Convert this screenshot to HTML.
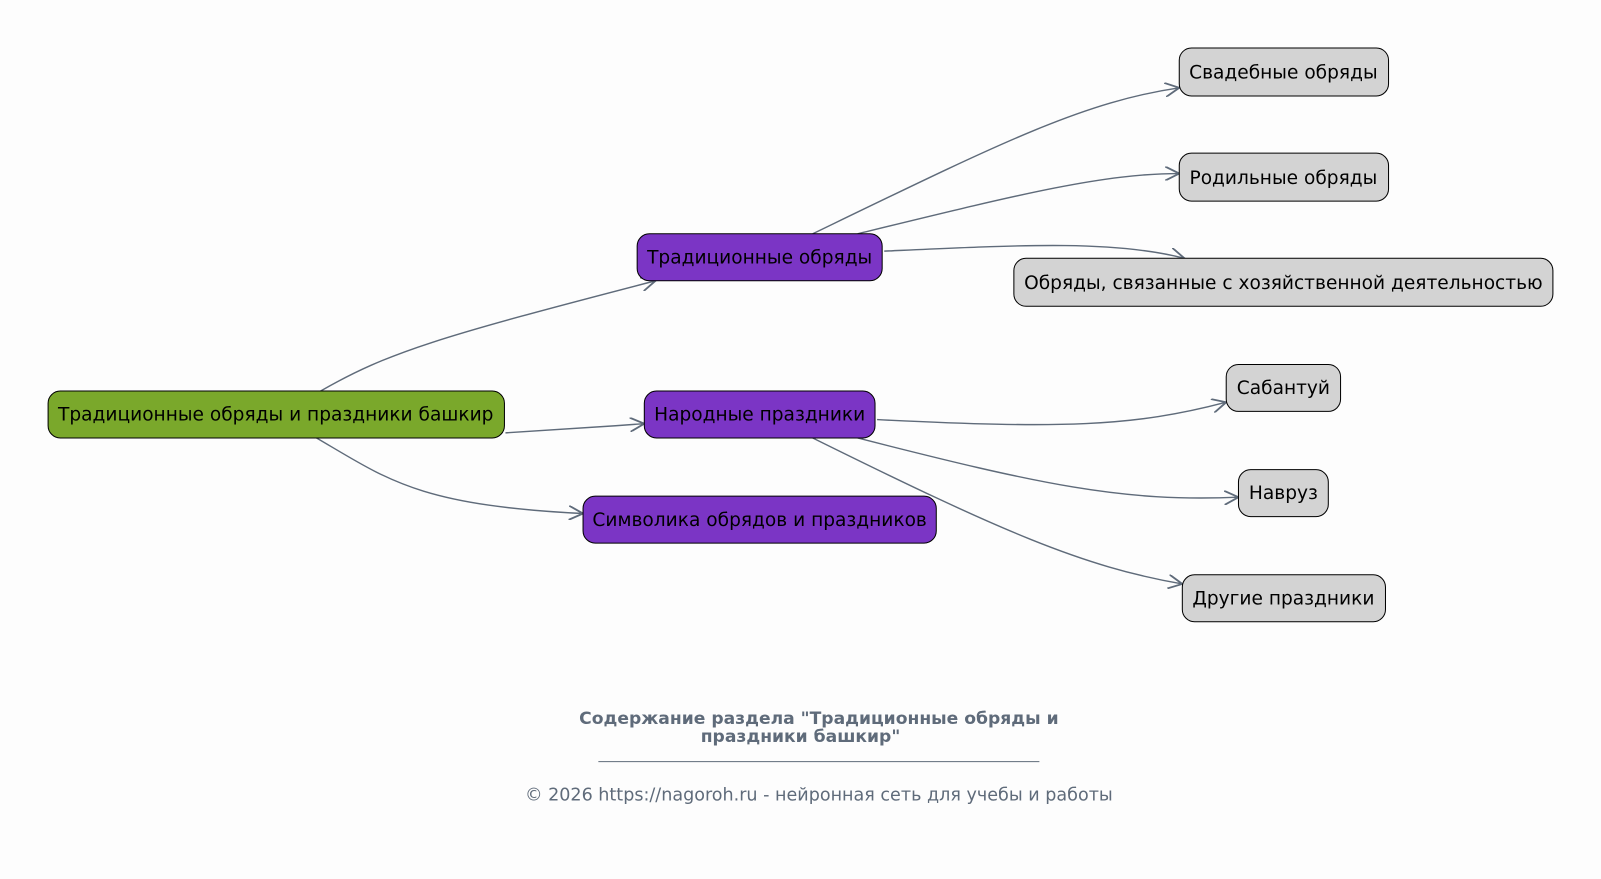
<!DOCTYPE html>
<html><head><meta charset="utf-8"><style>
html,body{margin:0;padding:0;background:#fdfdfd;}
svg{display:block}
text{font-family:"DejaVu Sans","Liberation Sans",sans-serif;}
</style></head><body>
<svg width="1601" height="879" viewBox="0 0 1568 861" xmlns="http://www.w3.org/2000/svg">
<rect width="1568" height="861" fill="#fdfdfd"/>
<defs><marker id="a" markerWidth="16" markerHeight="14" refX="14" refY="7" orient="auto" markerUnits="userSpaceOnUse"><path d="M0,0 L14,7 L0,14" fill="none" stroke="#5f6b7a" stroke-width="1.8"/></marker></defs>
<g fill="none" stroke="#5f6b7a" stroke-width="1.4" marker-end="url(#a)">
<path d="M314,383 C380,345 430,330 642,275"/>
<path d="M495,424 C560,420 590,418 631,415"/>
<path d="M310,429 C380,470 410,495 571,503"/>
<path d="M796,229 C980,140 1060,100 1155,86"/>
<path d="M840,229 C1000,190 1080,170 1155,170"/>
<path d="M866,246 C1000,240 1090,235 1160,253"/>
<path d="M859,411 C1040,420 1110,418 1201,394"/>
<path d="M840,429 C1020,475 1100,492 1213,487"/>
<path d="M796,429 C980,520 1060,555 1158,572"/>
</g>
<g stroke="#000" stroke-width="1">
<rect x="47" y="383" width="447" height="46" rx="12" fill="#7aa82b"/>
<rect x="624" y="229" width="240" height="46" rx="12" fill="#7b35c5"/>
<rect x="631" y="383" width="226" height="46" rx="12" fill="#7b35c5"/>
<rect x="571" y="486" width="346" height="46" rx="12" fill="#7b35c5"/>
<rect x="1155" y="47" width="205" height="47" rx="12" fill="#d3d3d3"/>
<rect x="1155" y="150" width="205" height="47" rx="12" fill="#d3d3d3"/>
<rect x="993" y="253" width="528" height="47" rx="12" fill="#d3d3d3"/>
<rect x="1201" y="357" width="112" height="46" rx="12" fill="#d3d3d3"/>
<rect x="1213" y="460" width="88" height="46" rx="12" fill="#d3d3d3"/>
<rect x="1158" y="563" width="199" height="46" rx="12" fill="#d3d3d3"/>
</g>
<g font-size="18.2" text-anchor="middle" fill="#000">
<text x="270" y="412">Традиционные обряды и праздники башкир</text>
<text x="744" y="258">Традиционные обряды</text>
<text x="744" y="412">Народные праздники</text>
<text x="744" y="515">Символика обрядов и праздников</text>
<text x="1257" y="77">Свадебные обряды</text>
<text x="1257" y="180">Родильные обряды</text>
<text x="1257" y="283">Обряды, связанные с хозяйственной деятельностью</text>
<text x="1257" y="386">Сабантуй</text>
<text x="1257" y="489">Навруз</text>
<text x="1257" y="592">Другие праздники</text>
</g>
<g text-anchor="middle" fill="#5f6b7a">
<text x="802" y="709" font-size="16.8" font-weight="bold">Содержание раздела "Традиционные обряды и</text>
<text x="784" y="727" font-size="16.8" font-weight="bold">праздники башкир"</text>
<line x1="586" y1="746" x2="1018" y2="746" stroke="#5f6b7a" stroke-width="1"/>
<text x="802" y="784" font-size="17.2">© 2026 https://nagoroh.ru - нейронная сеть для учебы и работы</text>
</g>
</svg>
</body></html>
